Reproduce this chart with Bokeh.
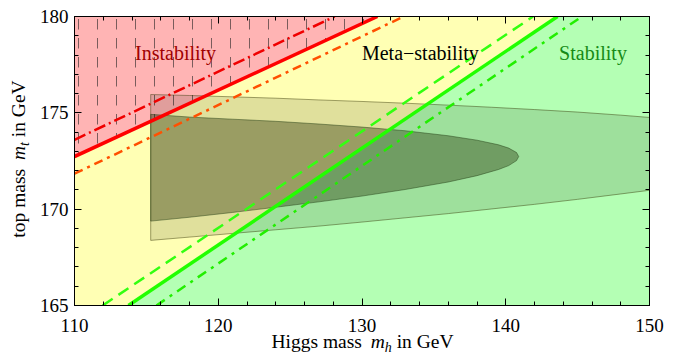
from bokeh.plotting import figure
from bokeh.models import Range1d, LinearAxis, Label, FixedTicker, Div
from bokeh.layouts import column, row
from bokeh.embed import file_html
from bokeh.resources import INLINE

# ---------------- data ----------------
x_lim = [110, 150]
y_lim = [165, 180]
x_ticks = [110, 120, 130, 140, 150]
y_ticks = [165, 170, 175, 180]

# boundary lines: Higgs mass (mh) and top mass (mt) end points
instab_solid_mh = [110.0, 131.07]
instab_solid_mt = [172.73, 180.0]
instab_up_mh = [110.0, 128.1]
instab_up_mt = [173.6, 180.0]
instab_low_mh = [110.0, 132.9]
instab_low_mt = [171.84, 180.0]

stab_solid_mh = [113.75, 143.6]
stab_solid_mt = [165.0, 180.0]
stab_up_mh = [111.96, 141.9]
stab_up_mt = [165.0, 180.0]
stab_low_mh = [115.7, 145.3]
stab_low_mt = [165.0, 180.0]

# fit regions (upper and lower edges)
outer_mh = [115.3, 118, 121, 124, 127, 130, 133, 136, 139, 142, 145, 148, 150]
outer_top = [175.95, 175.90, 175.83, 175.76, 175.67, 175.59, 175.50, 175.40, 175.29, 175.17, 175.04, 174.88, 174.76]
outer_bot = [168.38, 168.55, 168.74, 168.93, 169.12, 169.33, 169.55, 169.77, 170.01, 170.25, 170.51, 170.79, 170.98]

inner_mh = [115.3, 118, 121, 124, 127, 130, 133, 136, 138, 139.5, 140.2, 140.75]
inner_top = [174.92, 174.78, 174.67, 174.56, 174.42, 174.26, 174.07, 173.81, 173.58, 173.34, 173.17, 172.94]
inner_bot = [169.38, 169.58, 169.83, 170.10, 170.38, 170.68, 171.02, 171.41, 171.74, 172.06, 172.26, 172.52]
inner_tip_mh = [140.9]
inner_tip_mt = [172.73]

region_labels = ["Instability", "Meta\u2212stability", "Stability"]
region_mh = [117.03, 134.06, 146.07]
region_mt = [178.08, 178.08, 178.08]
region_colors = ["#a00000", "#000000", "#168a16"]

x_title = ("Higgs mass", "m", "h", "in GeV")
y_title = ("top mass", "m", "t", "in GeV")

# ---------------- figure ----------------
FONT = "Liberation Serif"

P_H = 339
p = figure(width=658, height=P_H,
           x_range=Range1d(x_lim[0], x_lim[1]), y_range=Range1d(y_lim[0], y_lim[1]),
           output_backend="svg", toolbar_location=None,
           min_border_left=44, min_border_right=39, min_border_top=16, min_border_bottom=P_H - 16 - 289,
           background_fill_color="#ffffb4", border_fill_color="white", margin=(0, 0, 0, 0))
p.xgrid.visible = False
p.ygrid.visible = False
p.outline_line_color = "black"
p.outline_line_width = 1
p.outline_line_alpha = 1

x_minor = list(range(110, 151, 2))
y_minor = list(range(165, 181, 1))


def style_axis(ax, ticks, minor, labels=True):
    ax.ticker = FixedTicker(ticks=ticks, minor_ticks=minor)
    ax.axis_line_color = "black"
    ax.major_tick_line_color = "black"
    ax.minor_tick_line_color = "black"
    ax.major_tick_in = 7
    ax.major_tick_out = 0
    ax.minor_tick_in = 4
    ax.minor_tick_out = 0
    if labels:
        ax.major_label_text_font = FONT
        ax.major_label_text_font_size = "19px"
        ax.major_label_text_color = "black"
    else:
        ax.major_label_text_color = None
        ax.major_label_text_font_size = "1px"
        ax.major_label_standoff = 0


style_axis(p.xaxis[0], x_ticks, x_minor)
p.xaxis[0].major_label_standoff = 13
style_axis(p.yaxis[0], y_ticks, y_minor)
p.yaxis[0].major_label_standoff = 6

ax_r = LinearAxis()
style_axis(ax_r, y_ticks, y_minor, labels=False)
p.add_layout(ax_r, "right")
ax_t = LinearAxis()
style_axis(ax_t, x_ticks, x_minor, labels=False)
p.add_layout(ax_t, "above")

# ---------------- regions ----------------
pink_x = instab_solid_mh + [x_lim[0]]
pink_y = instab_solid_mt + [y_lim[1]]
p.patch(pink_x, pink_y, fill_color="#ffb4b4", line_color=None,
        hatch_pattern="vertical_dash", hatch_color="#222222", hatch_scale=19,
        hatch_weight=1, hatch_alpha=0.6)

green_x = stab_solid_mh + [x_lim[1], x_lim[1]]
green_y = stab_solid_mt + [y_lim[1], y_lim[0]]
p.patch(green_x, green_y, fill_color="#b4ffb4", line_color=None)

outer_x = outer_mh + outer_mh[::-1]
outer_y = outer_top + outer_bot[::-1]
p.patch(outer_x, outer_y, fill_color="#101000", fill_alpha=0.13,
        line_color="#333300", line_alpha=0.45, line_width=1)

inner_x = inner_mh + inner_tip_mh + inner_mh[::-1]
inner_y = inner_top + inner_tip_mt + inner_bot[::-1]
p.patch(inner_x, inner_y, fill_color="#1e2800", fill_alpha=0.36,
        line_color="#203a10", line_alpha=0.45, line_width=1)

# ---------------- lines ----------------
p.line(instab_up_mh, instab_up_mt, line_color="#f00000", line_width=2.5, line_dash="12 4 2 4")
p.line(instab_low_mh, instab_low_mt, line_color="#ff5000", line_width=2.5, line_dash="9 5 3 5")
p.line(instab_solid_mh, instab_solid_mt, line_color="#ff0000", line_width=3.5)

p.line(stab_up_mh, stab_up_mt, line_color="#33ff11", line_width=2.5, line_dash="12 7")
p.line(stab_low_mh, stab_low_mt, line_color="#22ee00", line_width=2.5, line_dash="10 6 3 6")
p.line(stab_solid_mh, stab_solid_mt, line_color="#22ff00", line_width=3.5)

# ---------------- texts inside the frame ----------------
for t, xm, ym, c in zip(region_labels, region_mh, region_mt, region_colors):
    p.add_layout(Label(x=xm, y=ym, text=t, text_font=FONT, text_font_size="20px",
                       text_color=c, text_align="center", text_baseline="alphabetic"))

# ---------------- axis titles (HTML, italic symbols) ----------------
CSS_FONT = "font-family:'Liberation Serif','Times New Roman',serif; font-size:19.5px; color:black;"


def title_html(parts, box_w, box_h, cx, cy, rotate):
    main, sym, sub, tail = parts
    rot = " rotate(-90deg)" if rotate else ""
    return ('<div style="position:relative; width:%dpx; height:%dpx;">'
            '<div style="position:absolute; left:%.1fpx; top:%.1fpx; white-space:nowrap; '
            'line-height:20px; transform:translate(-50%%,-50%%)%s; %s">'
            '%s&#8201; <i>%s</i><span style="font-size:14px; font-style:italic; position:relative; top:4px;">%s</span> %s'
            '</div></div>') % (box_w, box_h, cx, cy, rot, CSS_FONT, main, sym, sub, tail)


X_H = 360 - P_H
ydiv = Div(text=title_html(y_title, 30, P_H, 20.2, 159.0, True), width=30, height=P_H,
           margin=(0, 0, 0, 0))
xdiv = Div(text=title_html(x_title, 688, X_H, 362.5, 343.0 - P_H, False), width=688, height=X_H,
           margin=(0, 0, 0, 0))

layout = column(row(ydiv, p, spacing=0), xdiv, spacing=0)

open("out.html", "w").write(file_html(layout, INLINE))
